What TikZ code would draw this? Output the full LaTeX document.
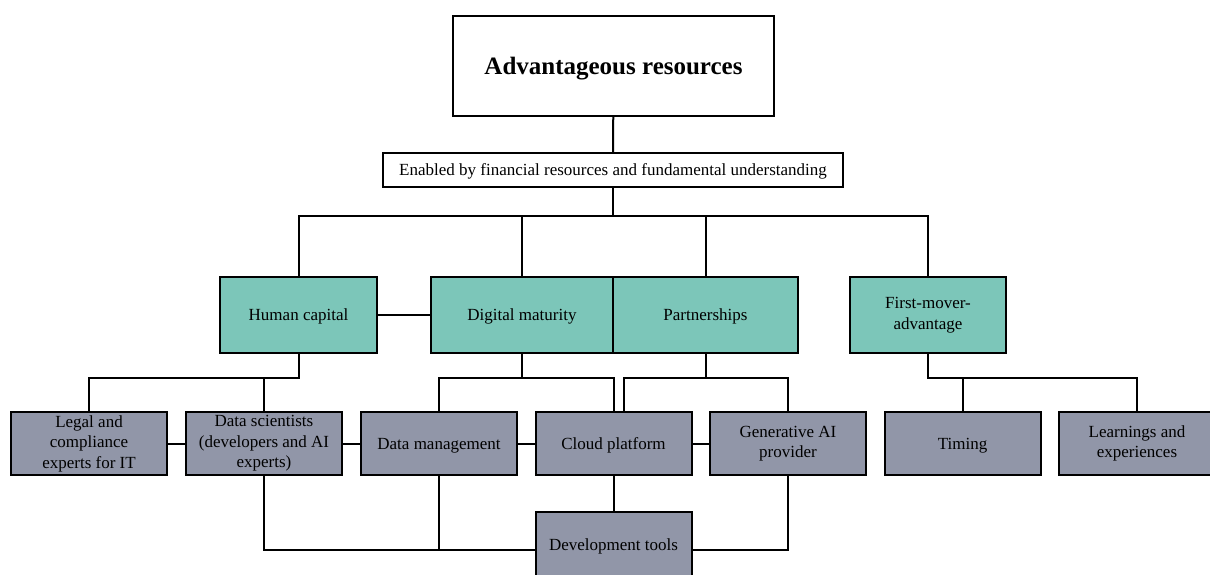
\documentclass[tikz,border=0pt]{standalone}
\usepackage{fontspec}
\setmainfont{Liberation Serif}
\definecolor{teal}{HTML}{7CC6B9}
\definecolor{slate}{HTML}{9196A8}
\begin{document}
\begin{tikzpicture}[x=1pt,y=-1pt,
  line width=2pt,
  box/.style={draw=black, line width=2pt, inner sep=2pt, align=flush center,
    font=\fontsize{17}{20.5}\selectfont},
  oneline/.style={text depth=0pt},
  mainbox/.style={box, fill=teal, minimum height=76pt},
  subbox/.style={box, fill=slate, minimum width=156pt, minimum height=63pt, text width=152pt}
]
\useasboundingbox (0,0) rectangle (1210,575);

% header
\node[box, oneline, minimum width=321pt, minimum height=100pt,
      font=\fontsize{25}{29}\selectfont\bfseries] (top) at (613.5,66) {Advantageous resources};
\node[box, oneline, minimum width=460pt, minimum height=34pt] (enab) at (613,170)
  {Enabled by financial resources and fundamental understanding};

% main resource categories
\node[mainbox, oneline, minimum width=157pt] (hc) at (298.5,315) {Human capital};
\node[mainbox, oneline, minimum width=182pt] (dm) at (522,315) {Digital maturity};
\node[mainbox, oneline, minimum width=185pt] (ps) at (705.5,315) {Partnerships};
\node[mainbox, minimum width=156pt, text width=120pt] (fm) at (928,315) {First-mover-\\advantage};

% sub-resources
\node[subbox] (legal) at (89,443.5) {Legal and\\compliance\\experts for IT};
\node[subbox] (ds) at (264,443.5) {Data scientists\\(developers and AI\\experts)};
\node[subbox, oneline] (dmg) at (439,443.5) {Data management};
\node[subbox, oneline] (cp) at (613.5,443.5) {Cloud platform};
\node[subbox] (gai) at (788,443.5) {Generative AI\\provider};
\node[subbox, oneline] (tim) at (962.5,443.5) {Timing};
\node[subbox] (lrn) at (1137,443.5) {Learnings and\\experiences};
\node[subbox, oneline, minimum height=66pt] (dev) at (613.5,545) {Development tools};

% bus levels
\coordinate (busA) at (613,216);
\coordinate (busB) at (0,378);

% top tree
\draw (top) -- (enab);
\draw (enab) -- (busA);
\draw (hc.north) |- (fm.north |- busA) -- (fm.north);
\draw (dm.north) -- (dm.north |- busA);
\draw (ps.north) -- (ps.north |- busA);
\draw (hc.east) -- (dm.west);

% branches to sub-resources
\draw (legal.north) |- (hc.south |- busB) -- (hc.south);
\draw (ds.north) -- (ds.north |- busB);
\draw (dmg.north) |- (cp.north |- busB) -- (cp.north);
\draw (dm.south) -- (dm.south |- busB);
\draw ([xshift=10pt]cp.north) |- (gai.north |- busB) -- (gai.north);
\draw (ps.south) -- (ps.south |- busB);
\draw (fm.south) |- (lrn.north |- busB) -- (lrn.north);
\draw (tim.north) -- (tim.north |- busB);

% links within the bottom row
\draw (legal.east) -- (ds.west);
\draw (ds.east) -- (dmg.west);
\draw (dmg.east) -- (cp.west);
\draw (cp.east) -- (gai.west);

% development tools
\coordinate (devL) at ([yshift=-5pt]dev.west);
\coordinate (devR) at ([yshift=-5pt]dev.east);
\draw (ds.south) |- (devL);
\draw (dmg.south) -- (dmg.south |- devL);
\draw (cp.south) -- (dev.north);
\draw (gai.south) |- (devR);
\end{tikzpicture}
\end{document}
